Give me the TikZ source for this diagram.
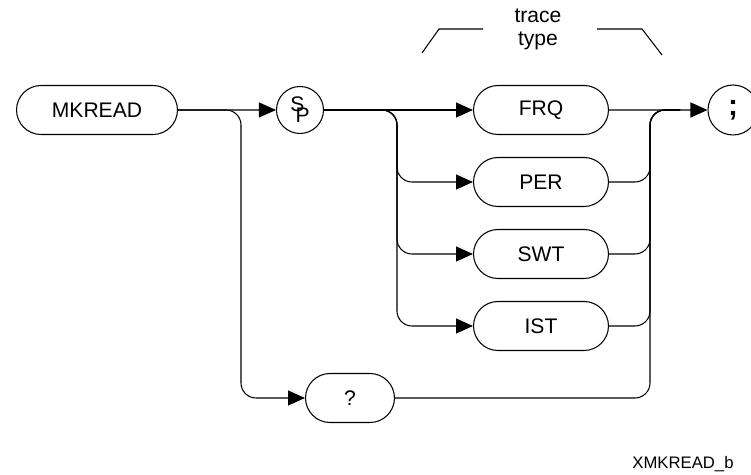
\documentclass[tikz,border=0pt]{standalone}
\usepackage{fontspec}
\setmainfont{Liberation Sans}
\usetikzlibrary{shapes.misc, arrows.meta, calc}

\tikzset{
    every picture/.append style={line width=0.6pt},
    keyword/.style={draw, rounded rectangle, minimum height=0.98cm, inner sep=2pt,
        font=\fontsize{12}{14}\selectfont},
    endpoint/.style={draw, circle, inner sep=0pt},
    flow/.style={-{Triangle[length=0.34cm,width=0.3cm]}},
    branch/.style={rounded corners=0.3cm},
}

\begin{document}
\begin{tikzpicture}[x=0.02cm, y=-0.02cm]
    \useasboundingbox (0,0) rectangle (751,475);
    \clip (0,0) rectangle (751,475);

    % Command and separator
    \node[keyword, minimum width=3.36cm] (mkread) at (97,110) {MKREAD};
    \node[endpoint, minimum size=0.94cm, font=\fontsize{12}{12}\selectfont] (sp) at (300,110)
        {\raisebox{0.45ex}{S}\kern-0.42em\raisebox{-0.55ex}{P}};

    % Trace types
    \node[keyword, minimum width=2.84cm] (frq) at (541,110) {FRQ};
    \foreach \name/\label/\y in {per/PER/182, swt/SWT/254, ist/IST/326} {
        \node[keyword, minimum width=2.84cm] (\name) at (541,\y) {\label};
    }
    \node[keyword, minimum width=1.92cm] (query) at (350,398) {?};

    % Terminator
    \node[endpoint, minimum size=1cm, font=\bfseries\fontsize{17}{17}\selectfont] (semi) at (733,110) {;};

    % Group label
    \node[align=center, font=\fontsize{12}{13}\selectfont] (tracetype) at (538,29) {trace\\type};
    \draw (422,53) -- (439,29) -- (483,29);
    \draw (597,29) -- (642,29) -- (662,55);

    % Figure id
    \node[font=\fontsize{9.5}{11}\selectfont] (figid) at (683,464) {XMKREAD\_b};

    % Branch points
    \coordinate (split) at (241,110);
    \coordinate (fork) at (397,110);
    \coordinate (join) at (650,110);

    % Connectors
    \draw[flow] (mkread) -- (sp);
    \draw[flow, branch] (mkread.east) -- (split) |- (query.west);
    \draw[flow] (sp) -- (frq);
    \foreach \name in {per, swt, ist} {
        \draw[flow, branch] (sp.east) -- (fork) |- (\name.west);
    }
    \draw[flow] (frq) -- (semi);
    \foreach \name in {per, swt, ist, query} {
        \draw[branch] (\name.east) -| (join) -- ++(30,0);
    }
\end{tikzpicture}
\end{document}
